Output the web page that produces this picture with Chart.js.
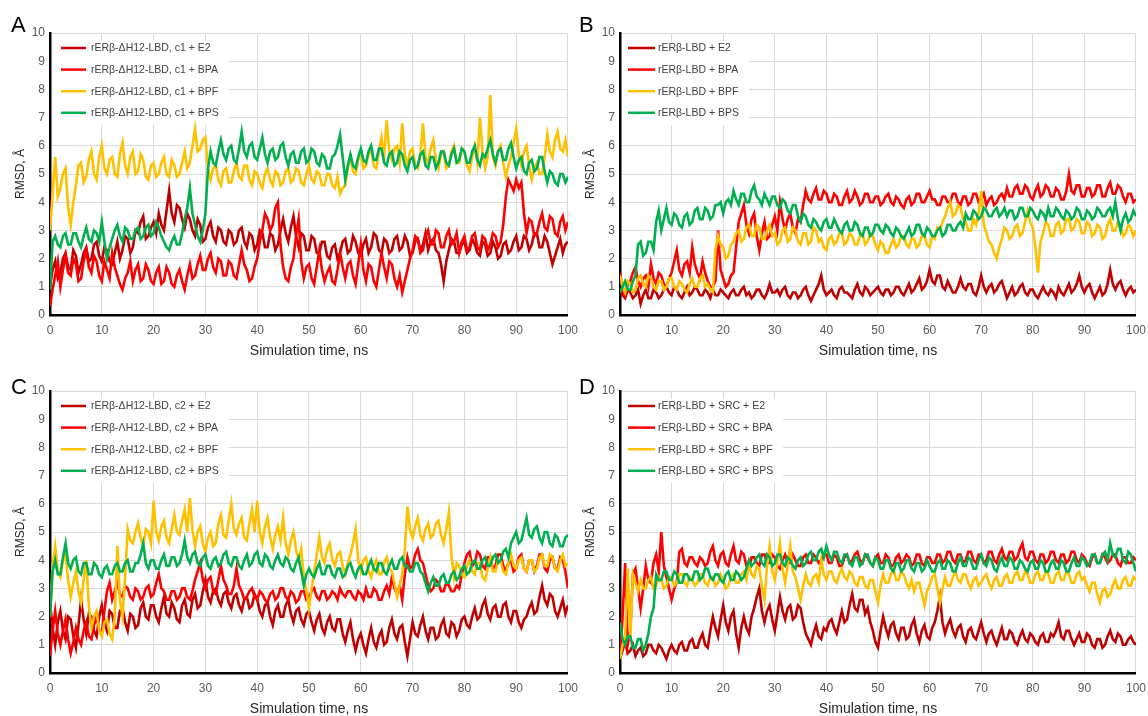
<!DOCTYPE html>
<html><head><meta charset="utf-8">
<script src="https://cdn.jsdelivr.net/npm/chart.js@4"></script>
<style>
body{margin:0;background:#fff;width:1148px;height:716px;position:relative;overflow:hidden;font-family:"Liberation Sans",Arial,sans-serif}
canvas{position:absolute}
.lt{position:absolute;font-size:22px;line-height:22px;color:#000}
</style></head><body>
<canvas id="cA" width="586" height="358" style="left:0;top:0"></canvas>
<canvas id="cB" width="584" height="358" style="left:570px;top:0"></canvas>
<canvas id="cC" width="586" height="358" style="left:0;top:358px"></canvas>
<canvas id="cD" width="584" height="358" style="left:570px;top:358px"></canvas>
<div class="lt" style="left:11px;top:14px">A</div>
<div class="lt" style="left:579px;top:14px">B</div>
<div class="lt" style="left:11px;top:376px">C</div>
<div class="lt" style="left:579px;top:376px">D</div>
<script>
const timeNs = [0,0.5,1,1.5,2,2.5,3,3.5,4,4.5,5,5.5,6,6.5,7,7.5,8,8.5,9,9.5,
10,10.5,11,11.5,12,12.5,13,13.5,14,14.5,15,15.5,16,16.5,17,17.5,18,18.5,19,19.5,
20,20.5,21,21.5,22,22.5,23,23.5,24,24.5,25,25.5,26,26.5,27,27.5,28,28.5,29,29.5,
30,30.5,31,31.5,32,32.5,33,33.5,34,34.5,35,35.5,36,36.5,37,37.5,38,38.5,39,39.5,
40,40.5,41,41.5,42,42.5,43,43.5,44,44.5,45,45.5,46,46.5,47,47.5,48,48.5,49,49.5,
50,50.5,51,51.5,52,52.5,53,53.5,54,54.5,55,55.5,56,56.5,57,57.5,58,58.5,59,59.5,
60,60.5,61,61.5,62,62.5,63,63.5,64,64.5,65,65.5,66,66.5,67,67.5,68,68.5,69,69.5,
70,70.5,71,71.5,72,72.5,73,73.5,74,74.5,75,75.5,76,76.5,77,77.5,78,78.5,79,79.5,
80,80.5,81,81.5,82,82.5,83,83.5,84,84.5,85,85.5,86,86.5,87,87.5,88,88.5,89,89.5,
90,90.5,91,91.5,92,92.5,93,93.5,94,94.5,95,95.5,96,96.5,97,97.5,98,98.5,99,99.5,
100];
const yTicks = [0,1,2,3,4,5,6,7,8,9,10];
const xTicks = [0,10,20,30,40,50,60,70,80,90,100];

// Panel A: rERb-dH12-LBD, c1
const labelsA = ['rERβ-ΔH12-LBD, c1 + E2','rERβ-ΔH12-LBD, c1 + BPA','rERβ-ΔH12-LBD, c1 + BPF','rERβ-ΔH12-LBD, c1 + BPS'];
const aE2 = [1.0,1.6,1.9,1.3,1.5,2.0,2.2,1.7,1.6,2.3,2.1,1.5,1.8,2.2,2.4,1.9,2.0,2.5,2.6,2.1,
1.9,2.4,2.3,1.9,1.8,2.2,2.6,2.0,2.3,2.8,2.7,2.2,2.4,3.0,2.9,3.3,3.5,2.7,2.8,3.1,
3.3,2.9,3.6,3.2,3.0,3.7,4.4,3.6,3.3,3.9,3.8,3.4,3.1,3.6,3.4,3.0,2.8,3.4,3.2,2.6,
2.7,3.1,3.3,2.8,2.6,3.1,3.0,2.6,2.5,3.0,2.9,2.5,2.6,3.0,3.1,2.6,2.4,2.9,2.8,2.3,
2.5,3.0,2.9,2.4,2.4,2.9,2.8,2.3,2.5,3.0,3.4,2.9,2.6,3.1,3.5,2.8,2.4,2.9,2.8,2.3,
2.3,2.8,2.7,2.2,2.2,2.6,2.6,2.1,2.0,2.4,2.5,2.0,2.2,2.6,2.7,2.2,2.3,2.8,2.6,2.2,
2.1,2.5,2.7,2.2,2.4,2.9,2.8,2.3,2.2,2.7,2.6,2.2,2.3,2.7,2.8,2.3,2.4,2.8,2.6,2.1,
2.2,2.6,2.7,2.3,2.5,2.9,2.3,2.6,2.7,2.3,2.2,1.8,1.2,1.9,2.3,2.7,2.6,2.2,2.2,2.5,
2.6,2.2,2.3,2.7,2.5,2.2,2.1,2.6,2.5,2.1,2.2,2.6,2.4,2.0,2.1,2.5,2.6,2.2,2.3,2.6,
2.8,2.3,2.4,2.8,2.7,2.3,2.5,2.9,2.9,2.4,2.4,2.8,2.6,2.2,1.8,2.1,2.4,2.7,2.2,2.5,
2.6];
const aBPA = [0.3,0.9,1.4,1.9,1.0,1.6,2.1,1.5,1.4,2.0,1.8,1.2,1.3,1.9,2.3,1.7,1.5,2.1,1.9,1.4,
1.2,1.9,1.6,1.3,2.2,1.7,1.4,1.1,0.9,1.3,1.5,1.9,1.2,1.6,1.8,1.2,1.3,1.8,1.6,1.2,
1.1,1.5,1.7,1.1,1.2,1.7,1.5,1.1,1.0,1.4,1.6,1.2,0.9,1.4,1.8,1.3,1.4,1.8,2.1,1.6,
1.6,2.0,2.2,1.7,1.5,2.0,1.9,1.4,1.4,1.9,1.8,1.4,1.3,1.8,2.3,1.8,1.6,1.2,1.3,1.7,
2.0,2.6,3.0,3.6,3.4,3.0,3.2,3.8,4.0,2.5,1.7,1.3,1.2,1.7,2.0,2.8,3.4,1.9,1.3,1.7,
1.8,1.3,1.1,1.7,2.3,1.6,1.2,1.5,1.7,1.2,1.1,1.6,2.2,1.7,1.3,1.8,1.9,1.4,1.1,1.8,
2.5,1.6,1.2,1.8,1.7,1.2,1.0,1.6,2.2,1.7,1.3,1.9,1.8,1.3,1.0,1.4,0.8,1.2,1.6,2.0,
2.3,2.8,2.7,2.2,2.3,2.8,3.0,2.5,2.5,3.0,2.9,2.4,2.4,2.8,3.0,2.5,2.6,2.9,2.2,2.6,
2.8,2.3,2.4,2.8,2.9,2.4,2.3,2.8,2.7,2.3,2.5,2.9,2.8,2.4,2.6,3.2,4.2,4.8,4.6,4.4,
4.8,4.5,4.7,3.6,2.9,3.4,3.3,2.8,2.9,3.3,3.6,3.1,3.0,3.5,3.4,2.9,2.8,3.3,3.5,3.0,
3.3];
const aBPF = [3.0,4.3,5.6,4.2,4.5,5.0,5.2,3.8,3.2,4.0,4.6,5.3,5.4,4.7,4.9,5.5,5.8,5.0,4.8,5.6,
6.0,5.2,5.0,5.5,5.6,5.0,4.9,5.7,6.1,5.3,5.0,5.6,5.8,5.0,5.1,5.7,5.5,4.9,4.8,5.3,
5.4,4.9,5.0,5.4,5.6,5.0,4.9,5.5,5.3,4.9,5.0,5.4,5.8,5.2,5.4,6.0,6.6,5.8,5.9,6.2,
6.3,5.2,4.8,5.2,5.3,4.8,4.6,5.1,5.2,4.7,4.7,5.1,5.4,4.9,4.8,5.3,5.3,4.8,4.6,5.1,
5.0,4.7,4.5,5.0,5.2,4.8,4.6,5.1,5.0,4.6,4.7,5.1,5.2,4.7,4.8,5.2,5.1,4.7,4.6,5.0,
5.3,4.8,4.7,5.1,5.0,4.6,4.6,5.0,5.0,4.6,4.5,4.9,4.3,4.5,4.6,5.2,5.6,5.1,5.0,5.5,
5.8,5.2,5.3,5.7,5.9,5.3,5.2,5.8,6.3,5.6,6.9,5.8,5.5,5.9,6.0,5.4,6.8,5.7,5.3,5.8,
5.9,5.3,5.2,5.7,6.8,5.6,5.4,5.9,6.2,5.5,5.2,5.7,5.8,5.2,5.3,5.8,6.0,5.4,5.4,5.9,
5.8,5.3,5.1,5.6,6.0,5.4,7.0,5.8,5.2,5.6,7.8,5.6,5.3,5.8,6.0,5.4,4.9,5.3,5.6,6.1,
6.6,5.7,5.3,5.8,6.0,5.3,4.8,5.2,5.4,5.0,5.0,5.6,6.4,5.8,5.6,6.2,6.5,5.9,5.8,6.2,
5.6];
const aBPS = [0.9,2.6,2.8,2.5,2.4,2.8,2.9,2.5,2.5,2.9,2.9,2.6,2.4,2.8,3.1,2.7,2.6,3.0,2.9,2.6,
3.3,2.6,2.0,2.4,2.7,3.0,3.2,2.8,2.6,3.1,3.0,2.7,2.7,3.0,3.1,2.7,2.8,3.1,3.2,2.8,
2.9,3.3,3.1,2.8,2.6,2.4,2.3,2.6,2.8,2.5,2.5,2.9,3.4,3.8,4.5,3.6,3.2,2.8,2.6,3.0,
3.6,5.2,5.8,5.4,5.3,5.8,6.2,5.7,5.5,5.9,6.0,5.5,5.4,5.9,6.5,5.8,5.6,6.0,6.1,5.6,
5.5,5.9,6.3,5.7,5.4,5.8,5.9,5.5,5.6,6.0,6.1,5.6,5.3,5.7,5.8,5.4,5.4,5.8,5.9,5.4,
5.5,5.9,5.8,5.4,5.3,5.7,5.6,5.2,5.2,5.6,5.7,6.0,6.4,5.6,4.8,5.3,5.7,5.3,5.2,5.6,
5.9,5.5,5.4,5.8,6.0,5.5,5.5,5.9,5.9,5.4,5.3,5.7,5.8,5.3,5.4,5.8,5.7,5.3,5.1,5.5,
5.6,5.2,5.3,5.7,5.8,5.3,5.2,5.6,5.6,5.2,5.4,5.8,5.8,5.4,5.3,5.7,5.9,5.4,5.5,5.9,
5.8,5.4,5.4,5.8,6.0,5.5,5.3,5.7,5.6,5.9,6.2,5.7,5.4,5.8,5.9,5.5,5.5,5.9,6.1,5.6,
5.2,5.5,5.6,5.1,5.0,5.4,5.5,5.1,5.2,5.6,5.6,5.1,4.7,5.1,5.0,4.7,4.6,5.0,5.0,4.7,
4.9];

// Panel B: rERb-LBD
const labelsB = ['rERβ-LBD + E2','rERβ-LBD + BPA','rERβ-LBD + BPF','rERβ-LBD + BPS'];
const bE2 = [0.9,0.7,0.6,0.9,0.8,0.6,0.7,0.9,0.4,0.7,0.9,0.6,0.6,0.9,0.8,0.6,0.7,0.9,1.0,0.8,
0.7,1.0,0.9,0.7,0.6,0.8,1.0,0.7,0.8,1.0,0.9,0.7,0.7,0.9,0.8,0.6,0.9,0.7,0.7,0.9,
0.8,0.7,0.6,0.8,0.9,0.7,0.7,0.9,1.0,0.7,0.8,0.6,0.7,0.9,0.9,0.7,0.6,0.8,1.1,0.8,
0.8,0.9,0.7,0.9,1.0,0.7,0.6,0.8,0.8,0.6,0.7,0.9,1.0,0.7,0.5,0.7,0.9,1.1,1.4,0.9,
0.7,0.8,0.9,0.7,0.6,0.9,1.0,0.8,0.8,0.7,0.6,0.9,1.1,0.8,0.7,1.0,0.9,0.7,0.8,0.9,
1.0,0.8,0.7,0.9,0.9,0.7,0.8,1.0,1.0,0.8,0.7,0.9,1.1,0.8,0.9,1.1,1.3,0.9,1.0,1.2,
1.6,1.2,1.1,1.4,1.4,1.0,0.9,1.2,1.0,0.8,0.8,1.0,1.3,1.0,0.9,1.1,1.1,0.8,0.7,1.0,
1.4,1.0,0.8,1.0,1.1,0.8,0.9,1.1,1.2,0.9,0.6,0.8,1.0,0.7,0.8,1.0,1.1,0.8,0.7,0.9,
0.9,0.7,0.6,0.8,1.0,0.8,0.7,0.9,0.8,0.6,1.0,0.8,0.7,0.9,1.1,0.8,0.9,1.1,1.4,1.0,
0.8,1.0,1.1,0.8,0.6,0.8,1.0,0.7,0.8,1.1,1.6,1.1,0.9,1.1,1.2,0.9,0.7,0.9,1.0,0.8,
0.9];
const bBPA = [1.5,0.9,0.7,1.1,1.2,1.5,1.7,1.2,1.0,1.3,1.4,1.0,1.8,1.3,1.1,1.5,1.4,1.1,1.0,1.3,
1.5,1.9,2.3,1.6,1.4,1.8,1.9,1.5,2.4,1.8,1.5,1.3,1.9,1.5,1.2,1.0,1.0,1.2,3.0,1.6,
1.3,1.0,1.1,1.4,1.5,2.4,3.3,3.6,3.9,3.2,2.9,3.4,3.6,2.8,2.3,2.9,3.3,2.7,2.8,3.2,
3.5,3.0,4.0,3.4,3.0,3.4,3.6,3.1,2.9,3.4,3.3,3.9,4.4,4.1,4.0,4.3,4.5,4.1,4.1,4.4,
4.3,4.0,4.0,4.3,4.2,3.9,3.9,4.2,4.4,4.0,4.1,4.4,4.2,3.9,4.0,4.3,4.3,4.0,4.0,4.2,
4.2,3.9,4.0,4.2,4.3,4.0,3.9,4.2,4.1,3.9,3.8,4.1,4.2,3.9,4.0,4.3,4.3,4.0,4.0,4.2,
4.4,4.1,4.1,3.9,3.9,4.2,4.2,4.0,4.0,4.3,4.3,4.0,3.9,4.2,4.2,3.9,4.0,4.3,4.3,4.0,
4.1,4.3,3.9,4.1,4.2,3.9,4.0,4.2,4.3,4.1,4.5,4.2,4.2,4.5,4.6,4.3,4.3,4.6,4.5,4.2,
4.1,4.4,4.6,4.2,4.3,4.6,4.5,4.2,4.2,4.5,4.4,4.1,4.1,4.4,5.0,4.4,4.3,4.6,4.6,4.2,
4.2,4.5,4.5,4.2,4.3,4.6,4.6,4.2,4.2,4.5,4.7,4.3,4.3,4.6,4.5,4.2,4.0,4.3,4.3,4.0,
4.1];
const bBPF = [1.4,1.0,0.8,1.2,1.1,0.8,0.9,1.3,1.4,1.1,1.0,1.4,1.3,1.0,0.9,1.2,1.2,0.9,1.0,1.3,
1.3,1.0,0.9,1.2,1.1,0.9,0.8,1.1,1.3,1.0,1.0,1.3,1.4,1.0,1.1,0.9,0.8,2.3,2.8,2.5,
2.4,2.0,2.1,2.5,2.6,2.9,3.0,2.6,2.7,3.1,3.2,2.8,2.8,3.2,3.1,2.7,2.7,3.0,3.2,2.8,
2.9,2.5,2.6,3.0,3.1,2.6,2.7,3.1,3.0,2.6,2.5,2.9,2.9,2.5,2.6,3.1,3.0,2.6,2.7,2.4,
2.3,2.7,2.8,2.5,2.6,2.9,2.9,2.5,2.6,2.9,2.8,2.5,2.5,2.8,2.9,2.5,2.6,2.9,2.8,2.5,
2.3,2.6,2.5,2.2,2.2,2.5,2.7,2.4,2.5,2.8,2.8,2.5,2.4,2.7,2.7,2.4,2.5,2.8,2.8,2.5,
2.4,2.8,2.7,3.1,3.0,3.3,3.5,3.8,4.0,3.5,3.6,3.9,3.8,3.4,3.3,3.0,3.0,3.4,3.2,3.6,
4.4,3.2,2.9,2.6,2.5,2.2,2.0,2.4,2.7,3.1,3.0,2.7,2.8,3.1,3.2,2.8,2.9,3.3,3.7,3.3,
3.1,2.4,1.5,2.6,2.9,3.3,3.2,2.8,2.8,3.2,3.3,2.9,3.0,3.4,3.4,3.0,3.1,3.4,3.3,2.9,
2.9,3.3,3.2,2.8,2.9,3.2,3.1,2.7,2.8,3.2,3.4,3.0,3.0,3.3,3.2,2.8,2.9,3.2,3.1,2.8,
3.0];
const bBPS = [0.8,1.0,1.2,0.9,0.9,1.2,1.4,2.5,2.6,2.1,2.2,2.6,2.6,2.3,3.3,3.7,3.0,3.4,3.8,3.3,
3.2,3.6,3.5,3.2,3.1,3.5,3.6,3.2,3.3,3.7,3.8,3.4,3.4,3.8,3.7,3.4,3.5,3.9,3.9,4.0,
3.6,4.0,4.1,3.9,4.4,4.1,3.9,4.3,4.3,4.0,4.0,4.4,4.6,4.2,4.1,3.9,4.3,4.1,3.9,4.2,
4.2,3.9,3.8,4.1,4.0,3.7,3.6,3.9,3.9,3.5,3.3,3.6,3.5,3.2,3.1,3.4,3.3,3.1,3.0,3.3,
3.4,3.1,3.1,3.4,3.2,3.0,2.9,3.2,3.3,3.0,3.0,3.3,3.2,2.9,2.8,3.1,3.1,2.8,2.9,3.2,
3.2,3.0,2.9,3.2,3.1,2.9,2.8,3.1,3.0,2.8,2.7,2.9,3.1,2.8,2.9,3.2,3.2,2.9,2.8,3.1,
3.0,2.8,2.8,3.0,3.1,2.8,2.9,3.2,3.2,3.0,3.0,3.2,3.3,3.1,3.6,3.4,3.4,3.7,3.6,3.4,
3.5,3.8,3.7,3.5,3.5,3.7,3.8,3.5,3.6,3.8,3.5,3.7,3.7,3.4,3.5,3.8,3.8,3.5,3.5,3.8,
3.7,3.5,3.4,3.7,3.6,3.4,3.8,3.5,3.5,3.8,3.7,3.5,3.4,3.7,3.6,3.4,3.5,3.8,3.7,3.4,
3.4,3.7,3.6,3.4,3.5,3.8,3.7,3.5,3.5,3.7,3.8,3.5,4.0,3.4,3.0,3.4,3.6,3.3,3.4,3.7,
3.5];

// Panel C: rERb-dH12-LBD, c2
const labelsC = ['rERβ-ΔH12-LBD, c2 + E2','rERβ-ΛH12-LBD, c2 + BPA','rERβ-ΛH12-LBD, c2 + BPF','rERβ-ΔH12-LBD, c2 + BPS'];
const cE2 = [2.5,1.6,1.0,1.8,2.2,1.5,1.2,2.0,1.9,1.3,0.9,1.7,2.6,1.9,1.4,2.1,2.0,1.5,1.3,2.0,
2.4,1.8,1.5,2.2,2.1,1.6,1.6,2.2,2.3,1.8,1.5,2.1,2.0,1.6,1.7,2.3,2.5,2.0,1.9,2.4,
2.4,2.0,1.8,2.3,2.7,2.1,2.0,2.5,2.3,1.9,1.8,2.4,2.6,2.1,2.0,2.6,2.8,2.3,2.4,2.9,
3.3,2.7,2.5,2.9,3.0,2.6,2.4,2.8,2.9,2.5,2.3,2.7,2.8,2.4,2.2,2.6,2.7,2.3,2.4,2.8,
2.6,2.2,2.0,2.4,2.5,2.0,1.7,2.2,2.4,2.0,2.0,2.4,2.6,2.1,1.8,2.2,2.3,1.9,1.7,2.1,
2.2,1.8,1.5,1.9,2.1,1.6,1.4,1.8,2.0,1.6,1.5,1.9,1.9,1.4,1.1,1.5,1.8,1.2,0.8,1.2,
1.4,1.0,0.7,1.2,1.6,1.1,0.9,1.3,1.5,1.0,1.1,1.6,1.9,1.4,1.2,1.6,1.7,1.1,0.6,1.2,
1.8,1.4,1.3,1.7,2.0,1.5,1.2,1.6,1.6,1.2,1.3,1.7,1.9,1.4,1.3,1.8,1.7,1.3,1.5,1.9,
2.0,1.7,1.6,2.0,2.3,1.9,2.0,2.4,2.6,2.1,1.9,2.3,2.4,2.0,2.0,2.4,2.5,2.0,1.8,2.2,
2.2,1.8,1.6,1.9,2.0,2.3,2.5,2.1,2.2,2.7,3.1,2.6,2.4,2.8,2.7,2.2,2.0,2.3,2.6,2.1,
2.4];
const cBPA = [0.6,1.5,2.2,1.4,1.0,1.5,1.9,1.2,0.7,1.1,1.6,1.2,1.0,1.5,1.8,1.3,1.2,1.7,2.0,1.5,
1.4,2.2,2.9,3.2,2.6,2.9,3.2,2.8,2.7,3.1,3.0,2.7,2.6,3.0,2.9,2.6,2.7,3.0,3.1,2.7,
2.8,3.2,3.5,3.0,2.9,2.6,2.6,2.9,2.9,2.6,2.7,3.0,3.0,2.7,2.6,2.9,3.3,3.6,3.9,3.3,
3.0,3.3,3.4,2.9,2.8,3.3,3.8,3.3,3.1,2.8,2.8,3.1,3.7,3.1,2.9,2.6,2.7,2.9,3.0,2.7,
2.6,2.9,2.8,2.6,2.5,2.8,2.9,2.6,2.7,3.0,3.0,2.7,2.6,2.9,2.8,2.5,2.6,2.9,2.9,2.6,
2.7,2.9,3.0,2.7,2.6,2.9,2.9,2.6,2.7,2.9,2.8,2.6,3.0,2.8,2.7,2.9,2.9,2.7,2.6,2.9,
2.8,2.6,3.0,2.7,2.7,3.0,2.9,2.6,2.6,2.9,3.1,2.8,3.4,3.0,2.8,3.1,2.6,3.5,4.1,3.7,
3.8,4.2,4.4,4.0,3.9,3.5,3.1,2.9,3.0,3.3,3.2,2.9,2.9,3.2,3.1,2.9,2.9,3.1,3.0,3.5,
3.9,4.2,4.3,3.8,3.9,4.3,4.2,3.8,3.7,4.1,4.1,3.7,3.8,4.2,4.2,3.8,3.6,3.9,4.0,3.6,
3.7,4.1,4.2,3.7,3.6,4.0,4.0,3.6,3.8,4.2,4.2,3.7,3.6,4.0,4.1,3.7,3.7,4.1,4.0,3.6,
3.0];
const cBPF = [2.0,3.8,4.5,3.6,3.4,4.0,4.2,3.3,2.7,3.2,3.6,2.9,2.5,3.3,4.0,2.4,1.6,2.0,2.2,1.5,
1.3,1.8,1.9,1.4,1.2,2.0,4.5,2.6,2.0,3.4,5.1,4.7,4.6,5.0,5.3,4.8,4.5,5.1,5.0,4.6,
6.1,5.0,4.7,5.2,5.4,4.8,4.6,5.1,5.6,5.0,4.9,5.4,5.8,5.0,6.2,5.1,4.5,5.0,5.2,4.6,
4.3,4.8,5.0,4.5,4.6,5.3,5.6,4.9,4.8,5.4,6.0,5.1,4.9,5.3,5.5,4.8,4.7,5.3,5.8,5.0,
6.1,5.0,4.6,5.2,5.5,4.8,4.4,4.9,5.2,4.7,5.5,4.6,4.2,4.7,5.0,4.4,4.0,4.4,3.4,2.9,
2.3,3.0,3.6,4.2,4.8,4.1,3.9,4.4,4.6,4.0,3.8,4.2,4.3,3.8,3.5,3.9,4.2,4.6,5.1,4.0,
3.6,4.0,4.1,3.6,3.4,3.8,4.0,3.5,3.5,3.9,4.1,3.7,3.6,3.2,2.7,3.1,3.5,4.4,5.9,5.1,
4.8,5.2,5.5,4.9,4.7,5.1,5.3,4.8,4.9,5.3,5.4,4.9,4.6,5.1,5.7,4.2,3.4,3.9,3.8,3.5,
3.4,3.8,4.0,3.6,3.5,3.9,3.9,3.4,3.3,3.7,4.1,3.6,3.6,4.0,4.0,3.6,3.5,3.9,4.2,3.8,
3.7,4.0,4.1,3.7,3.6,4.0,4.0,3.6,3.7,4.1,4.2,3.8,3.8,4.2,4.1,3.7,3.6,4.0,4.2,3.8,
3.9];
const cBPS = [2.0,3.6,4.0,3.5,3.5,4.1,4.6,3.9,3.7,4.0,4.1,3.6,3.5,3.9,3.9,3.5,3.5,3.9,3.8,3.5,
3.4,3.7,3.8,3.5,3.5,3.8,3.9,3.6,3.6,3.9,4.0,3.6,3.6,3.9,3.9,4.2,4.6,3.9,3.7,4.0,
4.0,3.7,3.7,4.0,4.2,3.8,3.8,4.1,4.1,3.8,3.9,4.2,4.7,4.1,3.9,4.2,4.3,3.9,3.8,4.1,
4.2,3.8,3.7,4.0,4.1,3.8,3.9,4.2,4.3,3.9,3.8,4.1,4.1,3.8,3.7,4.0,4.2,3.8,3.9,4.2,
4.3,3.9,3.8,4.2,4.1,3.8,3.7,4.0,4.2,3.9,3.8,4.1,4.0,3.7,3.6,3.9,4.1,3.6,3.1,3.5,
3.7,3.5,3.4,3.7,3.9,3.5,3.5,3.8,3.8,3.5,3.4,3.7,3.7,3.4,3.5,3.8,3.9,3.6,3.4,3.7,
3.8,3.5,3.5,3.8,4.0,3.7,3.6,3.9,3.9,3.6,3.5,3.8,4.0,3.7,3.7,4.0,4.1,3.8,3.8,3.6,
3.6,3.9,3.9,3.6,3.5,3.2,2.9,3.2,3.4,3.1,3.1,3.4,3.5,3.2,3.2,3.5,3.6,3.3,3.4,3.7,
3.8,3.5,3.6,3.9,4.0,3.7,3.7,4.0,4.1,3.8,3.8,4.1,4.2,3.9,4.0,4.3,4.4,4.1,4.6,4.8,
5.0,4.6,4.7,5.1,5.5,4.9,4.8,5.1,5.2,4.8,4.6,5.0,5.0,4.6,4.5,4.9,4.8,4.5,4.5,4.8,
4.9];

// Panel D: rERb-LBD + SRC
const labelsD = ['rERβ-LBD + SRC + E2','rERβ-LBD + SRC + BPA','rERβ-LBD + SRC + BPF','rERβ-LBD + SRC + BPS'];
const dE2 = [0.5,0.8,1.1,0.7,0.8,1.0,0.6,0.8,0.9,0.6,0.7,1.0,1.0,0.8,0.7,1.0,0.9,0.7,0.5,0.8,
1.0,0.8,0.7,1.0,1.1,0.8,0.8,1.1,1.2,0.9,0.9,1.2,1.4,1.0,0.9,1.5,2.0,1.6,1.3,1.9,
2.4,1.8,1.5,2.0,2.2,1.4,0.9,1.6,2.0,1.6,1.4,2.0,2.3,2.7,3.0,2.2,1.8,2.2,2.4,1.9,
1.5,2.1,2.7,2.2,1.9,2.3,2.4,1.9,2.0,2.4,2.3,1.8,1.4,1.2,1.0,1.4,1.7,1.3,1.2,1.6,
1.5,1.8,1.9,1.6,1.4,1.8,2.2,1.8,1.9,2.4,2.8,2.3,2.2,2.6,2.6,2.1,2.3,1.8,1.5,1.1,
0.9,1.5,2.0,1.6,1.3,1.7,1.8,1.4,1.2,1.6,1.6,1.2,1.3,1.7,1.9,1.4,1.1,1.5,1.7,1.3,
1.2,1.6,1.8,2.2,2.7,1.8,1.4,1.7,1.9,1.5,1.3,1.6,1.7,1.3,1.1,1.5,1.6,1.3,1.2,1.5,
1.8,1.4,1.1,1.4,1.5,1.2,1.0,1.3,1.6,1.2,1.2,1.5,1.4,1.1,1.0,1.3,1.5,1.2,1.1,1.4,
1.3,1.1,1.0,1.3,1.4,1.1,1.1,1.4,1.3,1.5,1.8,1.3,1.2,1.5,1.5,1.2,1.0,1.2,1.4,1.1,
1.1,1.4,1.3,1.0,0.9,1.2,1.2,0.9,1.0,1.3,1.5,1.2,1.1,1.4,1.3,1.0,1.0,1.2,1.3,1.1,
1.0];
const dBPA = [0.5,2.0,3.9,1.0,1.5,3.5,3.7,3.0,2.3,3.0,3.8,3.3,3.2,3.9,4.2,3.6,5.0,3.8,3.4,3.0,
2.6,3.0,3.2,4.3,4.4,3.9,3.8,4.1,4.1,3.9,3.8,4.1,4.0,3.8,3.9,4.3,4.5,4.0,3.8,4.2,
4.3,3.9,3.8,4.2,4.5,4.0,3.9,4.3,4.2,3.8,3.7,4.1,4.1,3.9,3.8,4.2,4.2,3.9,3.9,4.2,
4.1,3.8,3.7,4.0,4.2,3.9,3.9,4.2,4.0,3.8,3.8,4.1,4.2,3.9,3.9,4.2,4.1,3.9,4.0,4.2,
4.2,3.9,3.9,4.2,4.1,3.8,3.8,4.1,4.2,3.9,4.0,4.2,4.3,4.0,3.9,4.2,4.1,3.9,3.8,4.1,
4.2,3.9,3.9,4.2,4.1,3.8,3.8,4.1,4.2,3.9,4.0,4.2,4.1,3.8,3.9,4.2,4.2,3.9,3.8,4.1,
4.1,3.9,3.9,4.2,4.2,3.9,4.0,4.3,4.3,4.0,3.9,4.2,4.2,3.9,4.0,4.3,4.3,4.0,3.9,4.2,
4.2,3.9,4.0,4.3,4.3,4.0,3.9,4.2,4.4,4.1,4.0,4.3,4.3,4.0,4.1,4.4,4.6,4.1,4.0,4.3,
4.3,4.0,3.9,4.2,4.2,3.9,4.0,4.3,4.3,4.0,3.9,4.2,4.2,3.9,4.0,4.3,4.3,4.0,3.9,4.2,
4.1,3.9,3.8,4.1,4.2,3.9,3.9,4.2,4.1,3.9,4.0,4.2,4.2,3.9,3.8,4.1,4.1,3.9,3.9,4.1,
4.0];
const dBPF = [0.5,1.0,1.3,3.7,1.2,3.5,3.2,2.9,3.3,3.0,3.0,3.3,3.4,3.0,3.1,3.4,3.3,3.0,3.1,3.4,
3.4,3.1,3.2,3.5,3.5,3.2,3.1,3.4,3.3,3.1,3.2,3.5,3.5,3.2,3.1,3.4,3.4,3.1,3.2,3.5,
3.3,3.0,3.1,3.4,3.5,3.2,3.2,3.5,3.6,3.3,3.9,3.5,3.4,3.8,3.7,3.1,2.6,3.8,4.5,3.6,
3.3,3.9,4.6,3.7,3.2,3.8,4.5,3.6,3.4,3.0,2.6,3.1,3.5,3.2,3.1,3.4,3.5,3.2,4.0,3.5,
3.3,3.6,3.6,3.3,3.2,3.5,3.7,3.4,3.3,3.6,3.5,3.2,3.1,3.4,3.4,3.1,3.0,3.3,3.3,2.9,
2.5,3.1,3.5,3.2,3.2,3.5,3.7,3.3,3.3,3.6,3.5,3.2,3.0,3.3,2.9,3.2,3.2,2.8,2.4,2.9,
3.1,3.4,3.5,3.0,2.5,3.0,3.4,3.1,3.1,3.4,3.6,3.3,3.2,3.5,3.5,3.2,3.0,3.3,3.4,3.1,
3.2,3.4,3.5,3.2,3.0,3.3,3.4,3.1,3.1,3.4,3.5,3.2,3.2,3.5,3.6,3.3,3.3,3.6,3.5,3.2,
3.2,3.5,3.6,3.3,3.3,3.6,3.5,3.2,3.2,3.5,3.6,3.3,3.3,3.6,3.5,3.2,3.2,3.5,3.6,3.3,
3.4,3.1,2.9,3.2,3.2,2.8,2.5,2.9,3.0,2.7,2.8,3.1,3.3,3.0,3.0,3.3,3.4,3.1,3.1,3.4,
3.3];
const dBPS = [1.8,1.2,1.0,1.3,1.3,0.9,0.9,1.2,1.2,0.8,1.0,1.4,2.0,2.3,3.5,3.3,3.3,3.6,3.6,3.3,
3.3,3.6,3.5,3.2,3.2,3.5,3.5,3.3,3.3,3.6,3.6,3.3,3.4,3.7,3.7,3.4,3.3,3.5,3.5,3.3,
3.2,3.5,3.6,3.3,3.3,3.6,3.5,3.3,3.4,3.7,4.0,3.8,3.9,4.1,4.2,3.9,3.8,4.2,4.1,3.8,
3.9,4.2,4.2,3.9,3.8,4.1,4.0,3.8,3.7,4.0,4.1,3.8,3.9,4.2,4.3,4.0,4.0,4.3,4.4,4.1,
4.5,4.2,4.0,4.3,4.3,4.0,3.9,4.2,4.2,3.9,3.8,4.1,4.1,3.8,3.9,4.2,4.2,3.9,3.8,4.1,
4.0,3.7,3.7,4.0,4.0,3.7,3.6,3.9,3.9,3.6,3.7,4.0,4.0,3.7,3.6,3.9,3.9,3.6,3.7,4.0,
3.8,3.6,3.6,3.9,4.0,3.7,3.7,4.0,3.9,3.6,3.6,3.9,4.1,3.8,3.8,4.1,4.0,3.7,3.7,4.0,
4.2,3.9,3.8,4.1,4.0,3.7,3.6,3.9,4.1,3.8,3.8,4.1,4.0,3.7,3.7,4.0,3.9,3.7,3.6,3.9,
4.0,3.7,3.7,4.0,3.9,3.6,3.6,3.9,4.0,3.7,3.7,4.0,3.9,3.6,3.6,3.9,4.1,3.8,3.8,4.1,
4.0,3.8,3.9,4.2,4.2,3.9,3.9,4.2,4.3,4.0,4.6,4.2,4.1,4.4,4.4,4.0,3.9,4.3,4.2,3.9,
3.6];

const seriesColors = ['#C00000','#FF0000','#FFC000','#00B050'];
const FAM = '"Liberation Sans", Arial, sans-serif';
Chart.defaults.font.family = FAM;

const panelLegend = {
  id: 'panelLegend',
  beforeDatasetsDraw(chart, args, o) {
    const {ctx, chartArea} = chart;
    ctx.save();
    ctx.font = o.fontSize + 'px ' + FAM;
    let w = 0;
    chart.data.datasets.forEach(d => { w = Math.max(w, ctx.measureText(d.label).width); });
    ctx.fillStyle = '#ffffff';
    ctx.fillRect(chartArea.left + 2, chartArea.top + 8, o.textX + w + 10 - 2, 84);
    ctx.restore();
  },
  afterDatasetsDraw(chart, args, o) {
    const {ctx, chartArea} = chart;
    ctx.save();
    ctx.font = o.fontSize + 'px ' + FAM;
    ctx.textBaseline = 'middle';
    ctx.textAlign = 'left';
    chart.data.datasets.forEach((d, i) => {
      const y = chartArea.top + 15 + i * 21.6;
      ctx.strokeStyle = d.borderColor;
      ctx.lineWidth = 2.5;
      ctx.beginPath();
      ctx.moveTo(chartArea.left + o.lineX0, y);
      ctx.lineTo(chartArea.left + o.lineX1, y);
      ctx.stroke();
      ctx.fillStyle = '#404040';
      ctx.fillText(d.label, chartArea.left + o.textX, y + 0.5);
    });
    ctx.restore();
  }
};

function buildPanel(id, labels, series, rightPad, leg) {
  const datasets = series.map((s, i) => ({
    label: labels[i], data: s, borderColor: seriesColors[i], backgroundColor: seriesColors[i],
    borderWidth: 2.6, pointRadius: 0, tension: 0, fill: false, order: 4 - i
  }));
  new Chart(document.getElementById(id), {
    type: 'line',
    data: { labels: timeNs, datasets },
    options: {
      responsive: false, animation: false, events: [],
      layout: { padding: { left: 0, top: 33, right: rightPad, bottom: 0 } },
      plugins: { legend: { display: false }, tooltip: { enabled: false }, panelLegend: leg },
      scales: {
        x: {
          type: 'linear', min: 0, max: 100,
          afterBuildTicks(s) { s.ticks = xTicks.map(v => ({ value: v })); },
          ticks: { color: '#595959', font: { size: 12 }, padding: 8, maxRotation: 0, autoSkip: false },
          grid: { color: '#d9d9d9', lineWidth: 1, drawTicks: false },
          border: { color: '#000', width: 2.5 },
          title: { display: true, text: 'Simulation time, ns', color: '#262626', font: { size: 14, lineHeight: 1 }, padding: 0 },
          afterFit(s) { s.height = 43; }
        },
        y: {
          min: 0, max: 10,
          afterBuildTicks(s) { s.ticks = yTicks.map(v => ({ value: v })); },
          ticks: { color: '#595959', font: { size: 12 }, padding: 5, autoSkip: false },
          grid: { color: '#d9d9d9', lineWidth: 1, drawTicks: false },
          border: { color: '#000', width: 2.5 },
          title: { display: true, text: 'RMSD, Å', color: '#262626', font: { size: 12, lineHeight: 1.2 }, padding: { top: 13, bottom: 0 } },
          afterFit(s) { s.width = 50; }
        }
      }
    },
    plugins: [panelLegend]
  });
}

const legWide = { fontSize: 10.5, lineX0: 11, lineX1: 36, textX: 41 };
const legNarrow = { fontSize: 10.5, lineX0: 8, lineX1: 35, textX: 38 };
buildPanel('cA', labelsA, [aE2, aBPA, aBPF, aBPS], 12, legWide);
buildPanel('cB', labelsB, [bE2, bBPA, bBPF, bBPS], 13, legNarrow);
buildPanel('cC', labelsC, [cE2, cBPA, cBPF, cBPS], 12, legWide);
buildPanel('cD', labelsD, [dE2, dBPA, dBPF, dBPS], 13, legNarrow);
</script>
</body></html>
